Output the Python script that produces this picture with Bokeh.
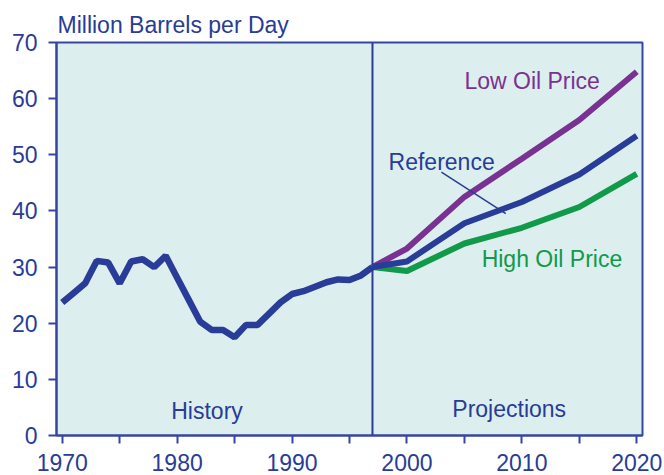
from bokeh.plotting import figure
from bokeh.models import Span, Label, FixedTicker
from bokeh.embed import file_html
from bokeh.resources import INLINE

# History
hist_years = list(range(1970, 1998))
hist_values = [23.7, 25.4, 27.1, 31.1, 30.8, 27.1, 31.0, 31.4, 30.0, 32.0,
               28.1, 24.2, 20.3, 18.8, 18.8, 17.5, 19.7, 19.7, 21.7, 23.7,
               25.2, 25.7, 26.5, 27.3, 27.8, 27.7, 28.5, 30.0]

# Projections
proj_years = [1997, 2000, 2005, 2010, 2015, 2020]
reference = [30.0, 31.0, 37.8, 41.6, 46.5, 53.4]
low_price = [30.0, 33.3, 42.5, 49.3, 56.2, 64.8]
high_price = [30.0, 29.3, 34.2, 37.0, 40.7, 46.6]

x_ticks = [1970, 1975, 1980, 1985, 1990, 1995, 2000, 2005, 2010, 2015, 2020]
x_tick_labels = {1970: "1970", 1980: "1980", 1990: "1990", 2000: "2000", 2010: "2010", 2020: "2020",
                 1975: "", 1985: "", 1995: "", 2005: "", 2015: ""}
y_ticks = [0, 10, 20, 30, 40, 50, 60, 70]

FONT = "Liberation Sans"
FS = "23px"
AXIS_BLUE = "#3646a0"
BLUE = "#283c98"
PURPLE = "#7a3292"
GREEN = "#109a4a"
BG = "#ddeeee"

p = figure(width=664, height=475, output_backend="svg", toolbar_location=None,
           x_range=(1969.5, 2020.5), y_range=(0, 70),
           min_border_left=56, min_border_right=22, min_border_top=42, min_border_bottom=40,
           title="Million Barrels per Day")
p.title.text_font = FONT
p.title.text_font_size = FS
p.title.text_font_style = "normal"
p.title.text_color = BLUE
p.title.align = "left"
p.title.offset = 1
p.title.standoff = 10
p.background_fill_color = BG
p.border_fill_color = "white"
p.outline_line_color = AXIS_BLUE
p.outline_line_width = 2
p.grid.visible = False

for ax in (p.xaxis[0], p.yaxis[0]):
    ax.axis_line_color = AXIS_BLUE
    ax.axis_line_width = 2
    ax.major_tick_line_color = AXIS_BLUE
    ax.major_tick_line_width = 2
    ax.major_tick_out = 8
    ax.major_tick_in = 0
    ax.minor_tick_line_color = None
    ax.major_label_text_font = FONT
    ax.major_label_text_font_size = FS
    ax.major_label_text_color = BLUE

p.xaxis.ticker = FixedTicker(ticks=x_ticks)
p.xaxis.major_label_overrides = x_tick_labels
p.xaxis.major_label_standoff = 10
p.yaxis.ticker = FixedTicker(ticks=y_ticks)
p.yaxis.major_label_standoff = 11

p.add_layout(Span(location=1997, dimension="height", line_color=BLUE, line_width=2))

p.line(proj_years, high_price, line_color=GREEN, line_width=6)
p.line(proj_years, low_price, line_color=PURPLE, line_width=6)
p.line(proj_years, reference, line_color=BLUE, line_width=6)
p.line(hist_years, hist_values, line_color=BLUE, line_width=6.5)

# pointer for Reference label
p.segment(x0=[2003.0], y0=[46.9], x1=[2008.6], y1=[39.5], line_color=BLUE, line_width=1.5)

def lab(x, y, text, color, align="left"):
    p.add_layout(Label(x=x, y=y, text=text, text_color=color, text_font=FONT,
                       text_font_size=FS, text_align=align, text_baseline="alphabetic"))

lab(2005.0, 63.1, "Low Oil Price", PURPLE)
lab(1998.4, 48.8, "Reference", BLUE)
lab(2006.5, 31.4, "High Oil Price", GREEN)
lab(1982.6, 4.3, "History", BLUE, "center")
lab(2008.9, 4.8, "Projections", BLUE, "center")

open("out.html", "w").write(file_html(p, INLINE))
